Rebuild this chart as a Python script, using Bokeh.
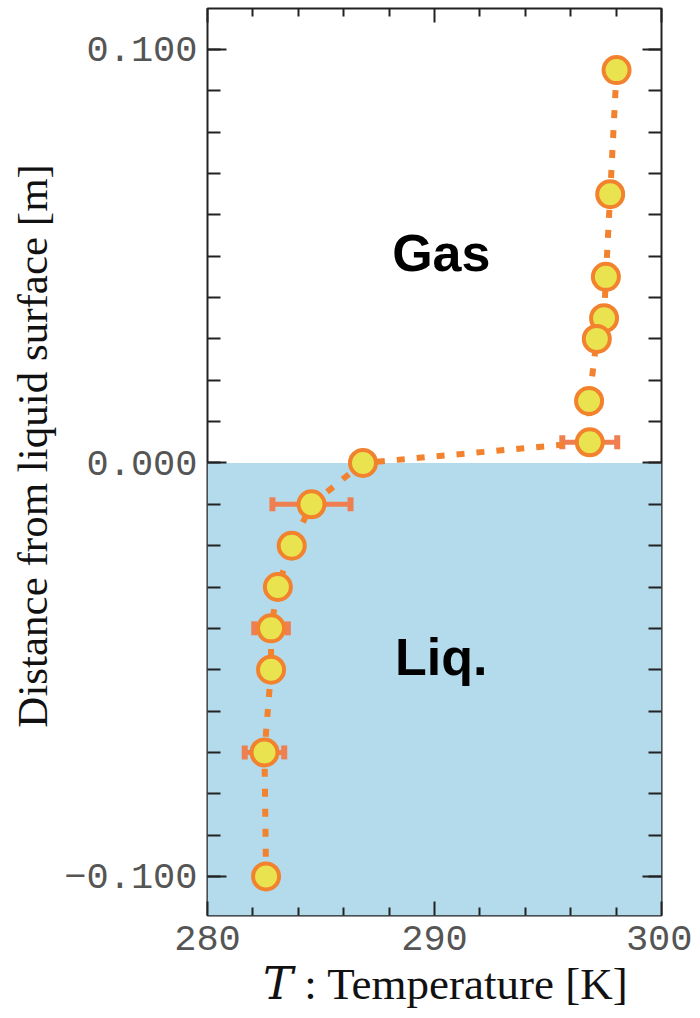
import numpy as np
from bokeh.plotting import figure
from bokeh.models import (Range1d, FixedTicker, LinearAxis, BoxAnnotation, Label,
                          Whisker, ColumnDataSource, TeeHead, CustomJSTickFormatter)
from bokeh.embed import file_html
from bokeh.resources import INLINE

# ---- data ----
temperature = [298.02, 297.74, 297.55, 297.47, 297.15, 296.81, 296.84,
               286.85, 284.58, 283.71, 283.10, 282.80, 282.80, 282.51, 282.58]
distance = [0.095, 0.065, 0.045, 0.035, 0.030, 0.015, 0.005,
            0.000, -0.010, -0.020, -0.030, -0.040, -0.050, -0.070, -0.100]
temp_err = [0.10, 0.10, 0.10, 0.10, 0.10, 0.10, 1.21,
            0.10, 1.72, 0.10, 0.10, 0.74, 0.10, 0.87, 0.10]

x_major = [280, 290, 300]
x_minor = [282, 284, 286, 288, 292, 294, 296, 298]
y_major = [-0.1, 0.0, 0.1]
y_minor = [round(v, 2) for v in np.arange(-0.11, 0.111, 0.01)]

ORANGE = "#F2822E"
YELLOW = "#E8E34E"
ERRC = "#EF7F50"
BLUE = "#B3DBEC"

src = ColumnDataSource(dict(
    t=temperature, d=distance,
    lo=[t - e for t, e in zip(temperature, temp_err)],
    hi=[t + e for t, e in zip(temperature, temp_err)],
))

p = figure(width=692, height=1014, output_backend="svg", toolbar_location=None,
           x_range=Range1d(280, 300), y_range=Range1d(-0.10944, 0.1099),
           min_border_left=207, min_border_right=31, min_border_top=8,
           min_border_bottom=99, x_axis_location=None, y_axis_location=None)
p.grid.visible = False
p.outline_line_color = "#222222"
p.outline_line_width = 2
p.background_fill_color = "white"
p.border_fill_color = "white"

xt = FixedTicker(ticks=x_major, minor_ticks=x_minor)
yt = FixedTicker(ticks=y_major, minor_ticks=y_minor)

def style(ax, show_labels, major_len, minor_len):
    ax.axis_line_color = None
    ax.major_tick_in = major_len
    ax.major_tick_out = 0
    ax.minor_tick_in = minor_len
    ax.minor_tick_out = 0
    ax.major_tick_line_color = "#222222"
    ax.minor_tick_line_color = "#222222"
    ax.major_tick_line_width = 2
    ax.minor_tick_line_width = 2
    if show_labels:
        ax.major_label_text_font = "Liberation Mono"
        ax.major_label_text_font_size = "37px"
        ax.major_label_text_color = "#555555"
        ax.major_label_standoff = 10
    else:
        ax.major_label_text_font_size = "1px"
        ax.major_label_text_color = None
        ax.major_label_standoff = 0

fmt_y = CustomJSTickFormatter(code="return (tick < 0 ? '\u2212' : '') + Math.abs(tick).toFixed(3);")

bottom = LinearAxis(ticker=xt)
style(bottom, True, 14, 8)
bottom.axis_label = "\u00a0\u00a0\U0001D447 : Temperature [K]"
bottom.axis_label_text_font = "Liberation Serif, DejaVu Serif"
bottom.axis_label_text_font_style = "normal"
bottom.axis_label_text_font_size = "45px"
bottom.axis_label_text_color = "#111111"
bottom.axis_label_standoff = 6
top = LinearAxis(ticker=xt)
style(top, False, 14, 8)
left = LinearAxis(ticker=yt, formatter=fmt_y)
style(left, True, 19, 13)
left.axis_label = "\u00a0\u00a0\u00a0Distance from liquid surface [m]"
left.axis_label_text_font = "Liberation Serif"
left.axis_label_text_font_style = "normal"
left.axis_label_text_font_size = "43px"
left.axis_label_text_color = "#111111"
left.axis_label_standoff = 5
right = LinearAxis(ticker=yt)
style(right, False, 19, 13)
p.add_layout(bottom, "below")
p.add_layout(top, "above")
p.add_layout(left, "left")
p.add_layout(right, "right")

# liquid region
p.add_layout(BoxAnnotation(top=0, fill_color=BLUE, fill_alpha=1.0, line_color=None, level="underlay"))

# error bars (under the markers)
p.add_layout(Whisker(source=src, base="d", lower="lo", upper="hi", dimension="width",
                     line_color=ERRC, line_width=5,
                     upper_head=TeeHead(size=14, line_color=ERRC, line_width=6),
                     lower_head=TeeHead(size=14, line_color=ERRC, line_width=6),
                     level="underlay"))

# dotted connecting line
p.line("t", "d", source=src, line_color=ORANGE, line_width=6, line_dash="8 12")

# markers
p.scatter("t", "d", source=src, size=26, fill_color=YELLOW, line_color=ORANGE, line_width=4)

# region labels
p.add_layout(Label(x=290.3, y=0.0508, text="Gas", text_font="Liberation Sans",
                   text_font_style="bold", text_font_size="52px", text_color="black",
                   text_align="center", text_baseline="middle"))
p.add_layout(Label(x=290.3, y=-0.047, text="Liq.", text_font="Liberation Sans",
                   text_font_style="bold", text_font_size="52px", text_color="black",
                   text_align="center", text_baseline="middle"))

open("out.html", "w").write(file_html(p, INLINE))
